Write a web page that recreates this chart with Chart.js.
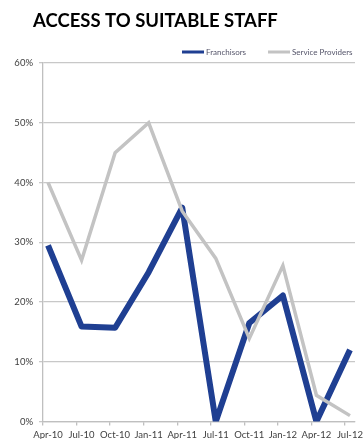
<!DOCTYPE html>
<html>
<head>
<meta charset="utf-8">
<script src="https://cdn.jsdelivr.net/npm/chart.js@4"></script>
<style>
  html, body { margin: 0; padding: 0; background: #fff; overflow: hidden; }
  #wrap { width: 364px; height: 445px; }
</style>
</head>
<body>
<div id="wrap"><canvas id="myChart" width="364" height="445"></canvas></div>
<script>
var chartTitle = 'ACCESS TO SUITABLE STAFF';
var quarters = ['Apr-10', 'Jul-10', 'Oct-10', 'Jan-11', 'Apr-11', 'Jul-11', 'Oct-11', 'Jan-12', 'Apr-12', 'Jul-12'];
var franchisors = [29.5, 15.9, 15.7, 25.0, 35.8, 0.0, 16.5, 21.1, 0.0, 12.0];
var serviceProviders = [40.0, 27.0, 45.0, 50.0, 35.2, 27.3, 13.9, 26.1, 4.4, 1.0];
var yTicks = [0, 10, 20, 30, 40, 50, 60];

function toPoints(arr) {
  return arr.map(function (v, i) { return {x: i, y: v}; });
}

// title and legend sit where the original had them, so draw them ourselves
var headerPlugin = {
  id: 'header',
  afterDraw: function (chart) {
    var c = chart.ctx;
    c.save();
    c.fillStyle = '#000';
    c.font = 'bold 18.5px Lato';
    c.textBaseline = 'middle';
    c.fillText(chartTitle, 33, 21);

    c.font = '8px Lato';
    var x = 182, y = 52;
    chart.data.datasets.forEach(function (ds) {
      c.fillStyle = ds.borderColor;
      c.fillRect(x, y - 1.5, 22, 3);
      x += 24;
      c.fillStyle = '#55556a';
      c.fillText(ds.label, x, y);
      x += c.measureText(ds.label).width + 22;
    });
    c.restore();
  }
};

var ctx = document.getElementById('myChart').getContext('2d');
var myChart = new Chart(ctx, {
  type: 'line',
  data: {
    datasets: [{
      label: 'Franchisors',
      data: toPoints(franchisors),
      borderColor: '#1f3f92',
      backgroundColor: '#1f3f92',
      borderWidth: 6,
      pointRadius: 0,
      tension: 0,
      borderJoinStyle: 'round',
      order: 2
    }, {
      label: 'Service Providers',
      data: toPoints(serviceProviders),
      borderColor: '#c3c3c3',
      backgroundColor: '#c3c3c3',
      borderWidth: 3.5,
      pointRadius: 0,
      tension: 0,
      order: 1
    }]
  },
  plugins: [headerPlugin],
  options: {
    responsive: false,
    animation: false,
    layout: { padding: { left: 0, right: 9, top: 63, bottom: 0 } },
    plugins: {
      tooltip: { enabled: false },
      title: { display: false },
      legend: { display: false }
    },
    scales: {
      x: {
        type: 'linear',
        min: -0.15,
        max: 9.15,
        afterBuildTicks: function (scale) {
          scale.ticks = quarters.map(function (q, i) { return {value: i - 0.15}; });
        },
        ticks: {
          autoSkip: false,
          maxRotation: 0,
          labelOffset: 5,
          color: '#404040',
          font: { family: 'Lato', size: 9.5 },
          padding: 4,
          callback: function (v, i) { return quarters[i]; }
        },
        grid: { drawOnChartArea: false, tickLength: 4, color: '#bfbfbf', lineWidth: 1.3 },
        border: { color: '#bfbfbf', width: 1.3 }
      },
      y: {
        min: 0,
        max: 60,
        afterBuildTicks: function (scale) {
          scale.ticks = yTicks.map(function (v) { return {value: v}; });
        },
        afterFit: function (scale) { scale.width = 43; },
        ticks: {
          color: '#404040',
          font: { family: 'Lato', size: 9.5 },
          padding: 6,
          callback: function (v) { return v + '%'; }
        },
        grid: { color: '#c8c8c8', lineWidth: 1.3, tickLength: 4 },
        border: { color: '#bfbfbf', width: 1.3 }
      }
    }
  }
});
</script>
</body>
</html>
